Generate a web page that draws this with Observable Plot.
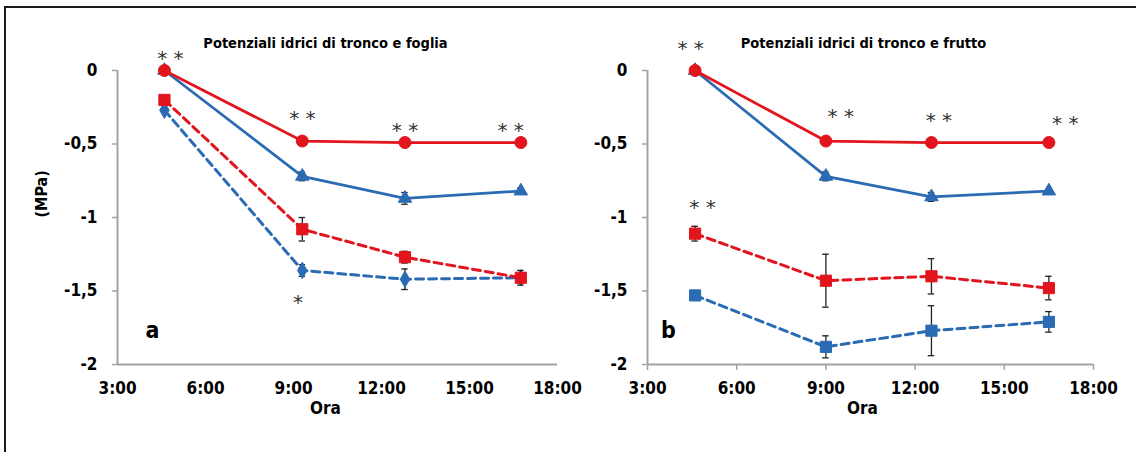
<!DOCTYPE html>
<html>
<head>
<meta charset="utf-8">
<script src="https://cdn.jsdelivr.net/npm/d3@7"></script>
<script src="https://cdn.jsdelivr.net/npm/@observablehq/plot@0.6"></script>
<style>
  html, body { margin: 0; padding: 0; background: #fff; }
  #wrap { position: relative; width: 1136px; height: 452px; overflow: hidden; }
  #frame { position: absolute; left: 4px; top: 6px; width: 1150px; height: 460px; border: 2px solid #1a1a1a; box-sizing: border-box; }
  .panel { position: absolute; top: 0; }
</style>
</head>
<body>
<div id="wrap"><div id="frame"></div><div id="pa" class="panel" style="left:0"></div><div id="pb" class="panel" style="left:568px"></div></div>
<script>
// ---- data (hours of day, water potential MPa) ----
const titleA = "Potenziali idrici di tronco e foglia";
const titleB = "Potenziali idrici di tronco e frutto";
const xTicks = [3, 6, 9, 12, 15, 18];
const yTicks = [0, -0.5, -1, -1.5, -2];

// panel a
const hoursA = [4.6, 9.3, 12.8, 16.75];
const aRedSolid = [0, -0.48, -0.49, -0.49];
const aRedSolidErr = [0, 0.01, 0.01, 0.01];
const aBlueSolid = [0, -0.72, -0.87, -0.82];
const aBlueSolidErr = [0, 0.03, 0.04, 0.02];
const aRedDashed = [-0.20, -1.08, -1.27, -1.41];
const aRedDashedErr = [0.02, 0.08, 0.04, 0.05];
const aBlueDashed = [-0.27, -1.36, -1.42, -1.41];
const aBlueDashedErr = [0.01, 0.04, 0.07, 0.02];
const aStars = [
  {t: 4.8, v: 0.10, s: "* *"}, {t: 9.3, v: -0.31, s: "* *"},
  {t: 12.8, v: -0.39, s: "* *"}, {t: 16.4, v: -0.39, s: "* *"},
  {t: 9.15, v: -1.56, s: "*"}
];

// panel b
const hoursB = [4.6, 9.0, 12.55, 16.5];
const bRedSolid = [0, -0.48, -0.49, -0.49];
const bRedSolidErr = [0, 0.01, 0.01, 0.01];
const bBlueSolid = [0, -0.72, -0.86, -0.82];
const bBlueSolidErr = [0, 0.03, 0.03, 0.01];
const bRedDashed = [-1.11, -1.43, -1.40, -1.48];
const bRedDashedErr = [0.05, 0.18, 0.12, 0.08];
const bBlueDashed = [-1.53, -1.88, -1.77, -1.71];
const bBlueDashedErr = [0.01, 0.075, 0.17, 0.07];
const bStars = [
  {t: 4.45, v: 0.17, s: "* *"}, {t: 9.5, v: -0.29, s: "* *"},
  {t: 12.8, v: -0.32, s: "* *"}, {t: 17.05, v: -0.34, s: "* *"},
  {t: 4.85, v: -0.91, s: "* *"}
];

const RED = "#e2141d", BLUE = "#2a6bb4", AXIS = "#a3a3a3";
const FONT = "'Liberation Sans Narrow', 'Arial Narrow', 'DejaVu Sans Condensed', sans-serif";

function rows(times, vals, errs) {
  return times.map((t, i) => ({t, v: vals[i], e: errs[i]}));
}

function seriesMarks(data, color, dashed, symbol, r) {
  const withErr = data.filter(d => d.e > 0.015);
  return [
    Plot.line(data, {x: "t", y: "v", stroke: color, strokeWidth: dashed ? 3 : 2.7, strokeDasharray: dashed ? "8,5" : null}),
    Plot.ruleX(withErr, {x: "t", y1: d => d.v - d.e, y2: d => d.v + d.e, stroke: "#222", strokeWidth: 1.3}),
    Plot.ruleY(withErr, {y: d => d.v + d.e, x1: d => d.t - 0.11, x2: d => d.t + 0.11, stroke: "#222", strokeWidth: 1.3}),
    Plot.ruleY(withErr, {y: d => d.v - d.e, x1: d => d.t - 0.11, x2: d => d.t + 0.11, stroke: "#222", strokeWidth: 1.3}),
    Plot.dot(data, {x: "t", y: "v", symbol, r, fill: color, stroke: color, strokeWidth: 1})
  ];
}

function panel(opts) {
  return Plot.plot({
    width: 568, height: 452,
    marginLeft: opts.ml, marginRight: opts.mr, marginTop: 70, marginBottom: 88,
    style: {fontFamily: FONT, background: "transparent", overflow: "visible"},
    x: {domain: [3, 18]},
    y: {domain: [-2, 0]},
    marks: [
      Plot.ruleX([3], {y1: -2, y2: 0, stroke: AXIS, strokeWidth: 2}),
      Plot.ruleY([-2], {x1: 3, x2: 18, stroke: AXIS, strokeWidth: 2}),
      Plot.axisY({ticks: yTicks, tickSize: 5, tickPadding: 15, stroke: AXIS, strokeWidth: 1.5,
        tickFormat: d => String(d).replace(".", ","), fontSize: 17, fontWeight: "bold", fill: "#000", label: null}),
      Plot.axisX({ticks: xTicks, tickSize: opts.xTick, tickPadding: opts.xPad, stroke: AXIS, strokeWidth: 1.5,
        tickFormat: d => d + ":00", fontSize: 17, fontWeight: "bold", fill: "#000", label: null}),
      Plot.text([opts.title], {frameAnchor: "top", dx: opts.titleDx, dy: -33, fontSize: 14.5, fontWeight: "bold", fill: "#000"}),
      Plot.text(["Ora"], {frameAnchor: "bottom", dx: opts.oraDx, dy: 49, fontSize: 17, fontWeight: "bold", fill: "#000"}),
      opts.mpa ? Plot.text(["(MPa)"], {frameAnchor: "left", rotate: -90, dx: -76, fontSize: 16, fontWeight: "bold", fill: "#000"}) : null,
      Plot.text([opts.letter], {frameAnchor: "bottom-left", dx: opts.letterDx, dy: -27, fontSize: 23, fontWeight: "bold", fill: "#000", textAnchor: "middle"}),
      ...opts.series,
      Plot.text(opts.stars, {x: "t", y: "v", text: "s", fontSize: 20, fill: "#333", fontFamily: "'DejaVu Sans', sans-serif", dy: 3})
    ]
  });
}

const plotA = panel({
  ml: 117, mr: 11, xTick: 0, xPad: 17, title: titleA, titleDx: -12, oraDx: -12, mpa: true,
  letter: "a", letterDx: 35, stars: aStars,
  series: [
    ...seriesMarks(rows(hoursA, aBlueDashed, aBlueDashedErr), BLUE, true, "diamond", 5),
    ...seriesMarks(rows(hoursA, aRedDashed, aRedDashedErr), RED, true, "square", 6.3),
    ...seriesMarks(rows(hoursA, aBlueSolid, aBlueSolidErr), BLUE, false, "triangle", 5),
    ...seriesMarks(rows(hoursA, aRedSolid, aRedSolidErr), RED, false, "circle", 6)
  ]
});
const plotB = panel({
  ml: 79, mr: 43, xTick: 6, xPad: 11, title: titleB, titleDx: -7, oraDx: -8, mpa: false,
  letter: "b", letterDx: 21, stars: bStars,
  series: [
    ...seriesMarks(rows(hoursB, bBlueDashed, bBlueDashedErr), BLUE, true, "square", 6.3),
    ...seriesMarks(rows(hoursB, bRedDashed, bRedDashedErr), RED, true, "square", 6.3),
    ...seriesMarks(rows(hoursB, bBlueSolid, bBlueSolidErr), BLUE, false, "triangle", 5),
    ...seriesMarks(rows(hoursB, bRedSolid, bRedSolidErr), RED, false, "circle", 6)
  ]
});
document.getElementById("pa").appendChild(plotA);
document.getElementById("pb").appendChild(plotB);
</script>
</body>
</html>
